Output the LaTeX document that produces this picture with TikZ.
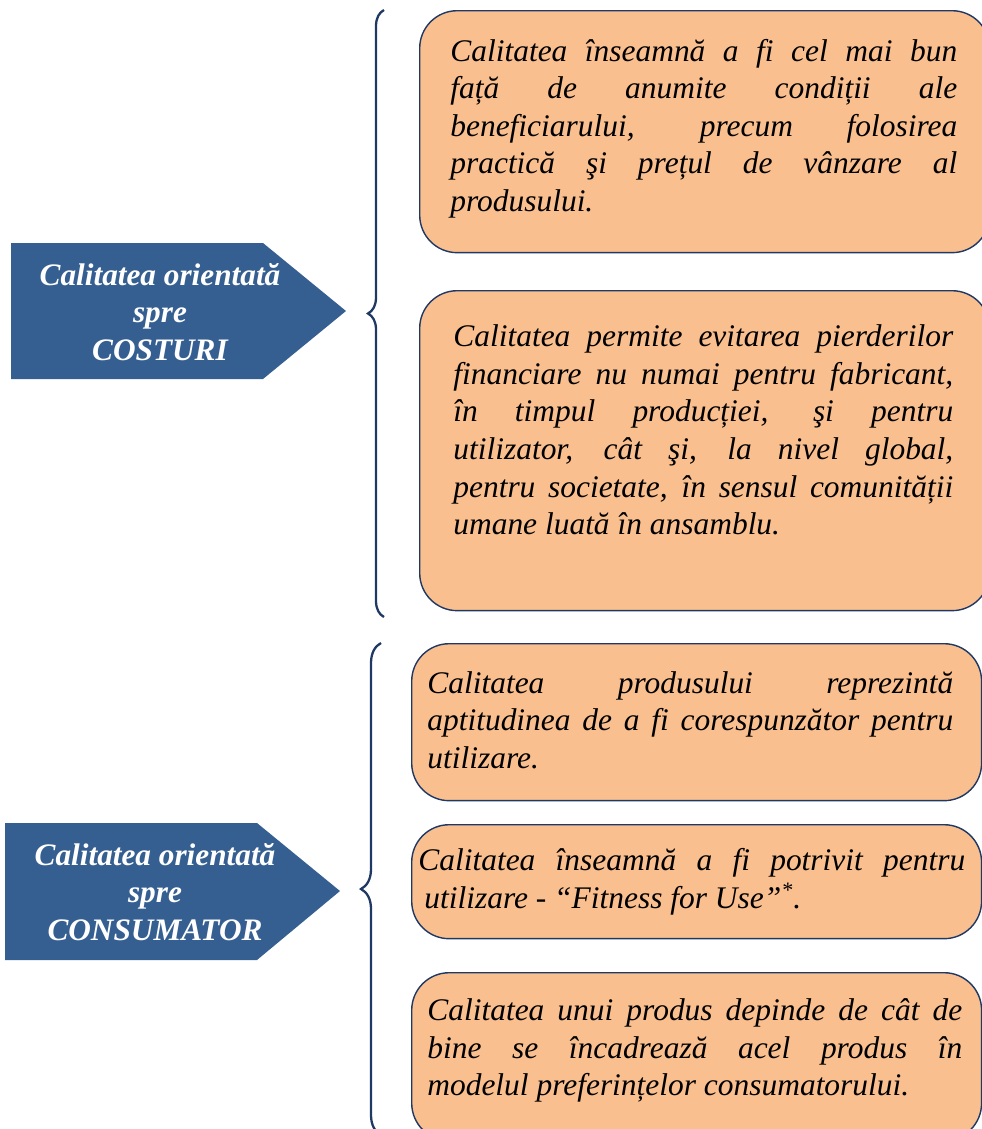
\documentclass[tikz,border=0pt]{standalone}
\usepackage{fontspec}
\setmainfont{Liberation Serif}
\usetikzlibrary{decorations.pathreplacing}

\definecolor{arrowblue}{RGB}{54,95,145}
\definecolor{boxfill}{RGB}{250,191,143}
\definecolor{navy}{RGB}{31,56,100}

\tolerance=10000
\hbadness=10000

\begin{document}
\begin{tikzpicture}[x=0.02cm,y=-0.02cm,
		box/.style={draw=navy,line width=0.8pt,fill=boxfill,rounded corners=0.75cm,anchor=north west,inner sep=0pt},
		txt/.style={anchor=west,align=justify,inner sep=0pt,font=\itshape\fontsize{17.9}{21.4}\selectfont},
		lbl/.style={align=center,text=white,inner sep=0pt,font=\bfseries\itshape\fontsize{17.8}{21.4}\selectfont},
		brc/.style={draw=navy,line width=1.3pt,decorate,decoration={brace,amplitude=#1}}]
	
	\useasboundingbox (0,0) rectangle (982,1129);
	\clip (0,0) rectangle (982,1129);
	
	% left arrows
	\fill[arrowblue] (11,243) -- (263,243) -- (346,311) -- (263,379) -- (11,379) -- cycle;
	\node[lbl] (cost) at (160,312) {Calitatea orientată\\spre\\COSTURI};
	
	\fill[arrowblue] (5,823) -- (257,823) -- (340,891) -- (257,960) -- (5,960) -- cycle;
	\node[lbl] (cons) at (155,892) {Calitatea orientată\\spre\\CONSUMATOR};
	
	% braces
	\coordinate (brA1) at (384,617);
	\coordinate (brA2) at (384,10);
	\draw[brc=0.32cm] (brA1) -- (brA2);
	
	\coordinate (brB1) at (381,1135);
	\coordinate (brB2) at (381,643);
	\draw[brc=0.4cm] (brB1) -- (brB2);
	
	% boxes, upper group
	\node[box,minimum width=11.4cm,minimum height=4.84cm] (b1) at (419,10) {};
	\node[txt,text width=10.14cm] (t1) at (450,128.5) {%
		Calitatea înseamnă a fi cel mai bun\linebreak
		față de anumite condiții ale\linebreak
		beneficiarului, precum folosirea\linebreak
		practică şi prețul de vânzare al\linebreak
		produsului.};
	
	\node[box,minimum width=11.4cm,minimum height=6.4cm] (b2) at (419,290) {};
	\node[txt,text width=10.0cm] (t2) at (453,430) {%
		Calitatea permite evitarea pierderilor\linebreak
		financiare nu numai pentru fabricant,\linebreak
		în timpul producției, şi pentru\linebreak
		utilizator, cât şi, la nivel global,\linebreak
		pentru societate, în sensul comunității\linebreak
		umane luată în ansamblu.};
	
	% boxes, lower group
	\node[box,minimum width=11.4cm,minimum height=3.14cm] (b3) at (411,643) {};
	\node[txt,text width=10.52cm] (t3) at (427,720) {%
		Calitatea produsului reprezintă\linebreak
		aptitudinea de a fi corespunzător pentru\linebreak
		utilizare.};
	
	\node[box,minimum width=11.4cm,minimum height=2.28cm] (b4) at (411,824) {};
	\node[txt,text width=10.94cm] (t4) at (418,881.5) {%
		Calitatea înseamnă a fi potrivit pentru\linebreak
		\hspace*{0.12cm}utilizare - “Fitness for Use”\textsuperscript{*}.};
	
	\node[box,minimum width=11.4cm,minimum height=3.36cm] (b5) at (411,972) {};
	\node[txt,text width=10.7cm] (t5) at (427,1050.5) {%
		Calitatea unui produs depinde de cât de\linebreak
		bine se încadrează acel produs în\linebreak
		modelul preferințelor consumatorului.};
	
\end{tikzpicture}
\end{document}
